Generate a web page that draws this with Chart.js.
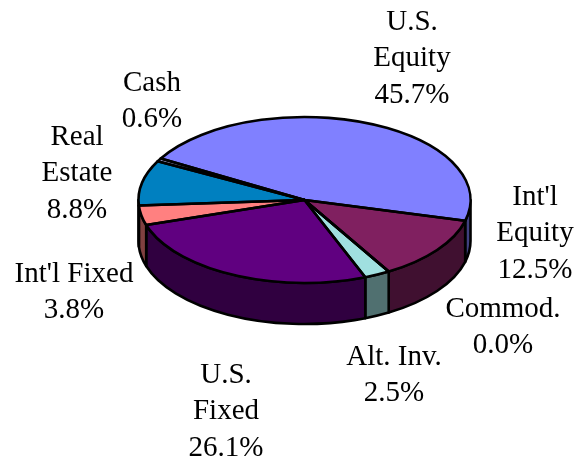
<!DOCTYPE html>
<html><head><meta charset="utf-8">
<style>html,body{margin:0;padding:0;background:#fff}canvas{display:block}</style>
<script src="https://cdn.jsdelivr.net/npm/chart.js@4"></script>
</head><body><canvas id="c" width="577" height="464"></canvas>
<script>
const categories = ["U.S. Equity","Int'l Equity","Commod.","Alt. Inv.","U.S. Fixed","Int'l Fixed","Real Estate","Cash"];
const shares = [45.7,12.5,0.0,2.5,26.1,3.8,8.8,0.6];
const topColors = ["#8080FF","#802060","#FFFFC0","#A0E0E0","#600080","#FF8080","#0080C0","#C0C0FF"];
const sideColors = ["#404080","#401030","#808060","#507070","#300040","#804040","#004060","#606080"];
const labelLines = [["U.S.","Equity"],["Int'l","Equity"],["Commod."],["Alt. Inv."],["U.S.","Fixed"],["Int'l Fixed"],["Real","Estate"],["Cash"]];
const labelAnchors = [[412,30],[535,205],[503,317],[394,365],[226,383],[74,282],[77,145],[152,91]];
const LINE = 36.4, FONT = 'px "Liberation Serif"', SIZE = 29;
const TILT = 0.5, DEPTH = 41, EDGE = 2.6;

const pie3d = {
  id:'pie3d',
  beforeDatasetsDraw(chart){
    const ctx=chart.ctx, arcs=chart.getDatasetMeta(0).data;
    // extruded rim: only the near half of the disc is visible
    arcs.forEach((a,i)=>{
      const TAU=Math.PI*2;
      let s=a.startAngle,e=a.endAngle;
      const k=Math.floor(s/TAU); s-=k*TAU; e-=k*TAU;
      [[s,e],[s-TAU,e-TAU]].forEach(([p,q])=>{
        const from=Math.max(p,0), to=Math.min(q,Math.PI);
        if(to-from<=1e-4) return;
        const r=a.outerRadius;
        ctx.beginPath();
        ctx.ellipse(a.x,a.y,r,r*TILT,0,from,to,false);
        ctx.ellipse(a.x,a.y+DEPTH,r,r*TILT,0,to,from,true);
        ctx.closePath();
        ctx.fillStyle=sideColors[i];ctx.fill();
        ctx.lineWidth=EDGE;ctx.strokeStyle='#000';ctx.lineJoin='round';ctx.stroke();
      });
    });
    const a0=arcs[0];
    ctx.save();
    ctx.translate(0,a0.y);ctx.scale(1,TILT);ctx.translate(0,-a0.y);
  },
  afterDatasetsDraw(chart){
    const ctx=chart.ctx, arcs=chart.getDatasetMeta(0).data;
    ctx.restore();
    arcs.forEach(a=>{
      const r=a.outerRadius;
      ctx.beginPath();
      ctx.moveTo(a.x,a.y);
      ctx.ellipse(a.x,a.y,r,r*TILT,0,a.startAngle,a.endAngle,false);
      ctx.closePath();
      ctx.lineWidth=EDGE;ctx.strokeStyle='#000';ctx.lineJoin='round';ctx.stroke();
    });
    // labels
    ctx.save();
    ctx.fillStyle='#000';ctx.textAlign='center';ctx.textBaseline='alphabetic';
    ctx.font=SIZE+FONT;
    categories.forEach((c,i)=>{
      const lines=[...labelLines[i],shares[i].toFixed(1)+'%'];
      const [x,y]=labelAnchors[i];
      lines.forEach((t,j)=>ctx.fillText(t,x,y+j*LINE));
    });
    ctx.restore();
  }
};
new Chart(document.getElementById('c'),{
  type:'pie',
  data:{labels:categories,datasets:[{data:shares,backgroundColor:topColors,borderWidth:0,radius:166}]},
  options:{responsive:false,animation:false,rotation:-60,
    layout:{padding:{left:32,bottom:64}},
    plugins:{legend:{display:false},tooltip:{enabled:false}}},
  plugins:[pie3d]
});
</script></body></html>
